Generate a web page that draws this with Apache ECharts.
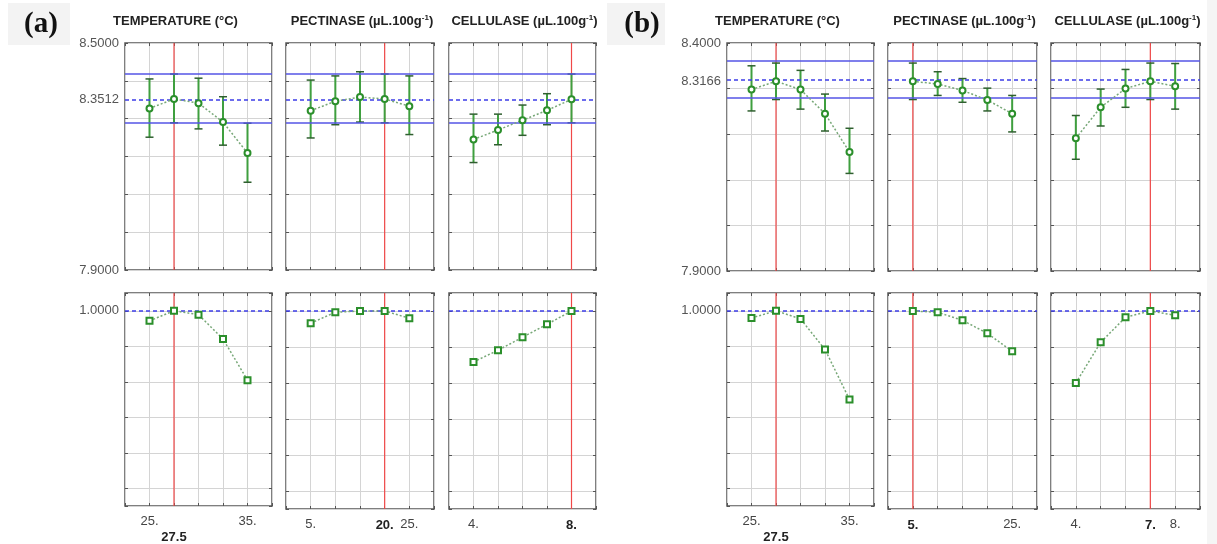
<!DOCTYPE html>
<html>
<head>
<meta charset="utf-8">
<script src="https://cdn.jsdelivr.net/npm/echarts@6/dist/echarts.min.js"></script>
<style>
  html, body { margin: 0; padding: 0; background: #fff; }
  #chart { width: 1217px; height: 544px; }
</style>
</head>
<body>
<div id="chart"></div>
<script>
// factor levels
const tempLevels = [25, 27.5, 30, 32.5, 35];
const pectLevels = [5, 10, 15, 20, 25];
const cellLevels = [4, 5, 6, 7, 8];

// panel (a): predicted response with confidence limits
const aTempMean = [8.327, 8.352, 8.341, 8.291, 8.209];
const aTempLow  = [8.251, 8.289, 8.273, 8.230, 8.132];
const aTempHigh = [8.405, 8.418, 8.407, 8.358, 8.288];
const aPectMean = [8.321, 8.346, 8.357, 8.352, 8.333];
const aPectLow  = [8.249, 8.284, 8.291, 8.289, 8.258];
const aPectHigh = [8.402, 8.413, 8.424, 8.418, 8.413];
const aCellMean = [8.245, 8.270, 8.296, 8.322, 8.351];
const aCellLow  = [8.184, 8.231, 8.256, 8.284, 8.289];
const aCellHigh = [8.312, 8.312, 8.336, 8.366, 8.418];
// panel (a): desirability
const aDesTemp = [0.943, 1.0, 0.978, 0.841, 0.609];
const aDesPect = [0.932, 0.993, 1.0, 1.0, 0.960];
const aDesCell = [0.717, 0.782, 0.854, 0.926, 1.0];
const aPred = [8.289, 8.3512, 8.418];   // low, predicted, high
const aOpt = [27.5, 20, 8];
const aTicks = [[25, 27.5, 35], [5, 20, 25], [4, 8]];
const aYRange = [7.9, 8.5];

// panel (b)
const bTempMean = [8.298, 8.316, 8.298, 8.245, 8.161];
const bTempLow  = [8.251, 8.276, 8.255, 8.207, 8.114];
const bTempHigh = [8.350, 8.356, 8.340, 8.288, 8.213];
const bPectMean = [8.316, 8.310, 8.296, 8.275, 8.245];
const bPectLow  = [8.276, 8.285, 8.270, 8.251, 8.205];
const bPectHigh = [8.356, 8.337, 8.322, 8.301, 8.285];
const bCellMean = [8.191, 8.259, 8.300, 8.316, 8.305];
const bCellLow  = [8.145, 8.218, 8.259, 8.276, 8.255];
const bCellHigh = [8.241, 8.299, 8.342, 8.356, 8.355];
const bDesTemp = [0.959, 1.0, 0.954, 0.782, 0.500];
const bDesPect = [1.0, 0.993, 0.948, 0.876, 0.776];
const bDesCell = [0.600, 0.826, 0.965, 1.0, 0.976];
const bPred = [8.276, 8.3166, 8.356];
const bOpt = [27.5, 5, 7];
const bTicks = [[25, 27.5, 35], [5, 25], [4, 7, 8]];
const bYRange = [7.9, 8.4];

const desRange = [-0.1, 1.1];

const chart = echarts.init(document.getElementById('chart'));

const FONT = '"Liberation Sans", Arial, sans-serif';
const factors = [
  { title: 'TEMPERATURE (°C)', unit: false, shift: -23, min: 22.5, max: 37.5, step: 2.5, levels: tempLevels },
  { title: 'PECTINASE ', unit: true, shift: 2, min: 0, max: 30, step: 5, levels: pectLevels },
  { title: 'CELLULASE ', unit: true, shift: 2, min: 3, max: 9, step: 1, levels: cellLevels }
];

const panels = [
  {
    label: '(a)', labelX: 41, labelBg: [8, 3, 62, 42],
    cols: [[125, 147], [286, 148], [449, 147]], top: [43, 227], bottom: [293, 216],
    mean: [aTempMean, aPectMean, aCellMean], low: [aTempLow, aPectLow, aCellLow],
    high: [aTempHigh, aPectHigh, aCellHigh], des: [aDesTemp, aDesPect, aDesCell],
    pred: aPred, opt: aOpt, ticks: aTicks, yRange: aYRange
  },
  {
    label: '(b)', labelX: 642, labelBg: [607, 3, 58, 42],
    cols: [[727, 147], [888, 149], [1051, 149]], top: [43, 228], bottom: [293, 216],
    mean: [bTempMean, bPectMean, bCellMean], low: [bTempLow, bPectLow, bCellLow],
    high: [bTempHigh, bPectHigh, bCellHigh], des: [bDesTemp, bDesPect, bDesCell],
    pred: bPred, opt: bOpt, ticks: bTicks, yRange: bYRange
  }
];

const grid = [], xAxis = [], yAxis = [], series = [], graphic = [];
const tickStyle = { show: true, inside: true, length: 3, lineStyle: { color: '#555', width: 1 } };
const splitStyle = { show: true, lineStyle: { color: '#d4d4d4', width: 1 } };
const noLine = { show: false, onZero: false };

function errorBarItem(params, api) {
  const x = api.value(0);
  const lo = api.coord([x, api.value(1)]);
  const hi = api.coord([x, api.value(2)]);
  const cap = 4;
  return {
    type: 'group',
    children: [
      { type: 'line', shape: { x1: lo[0], y1: lo[1], x2: hi[0], y2: hi[1] },
        style: { stroke: '#3f9f3f', lineWidth: 2 } },
      { type: 'line', shape: { x1: lo[0] - cap, y1: lo[1], x2: lo[0] + cap, y2: lo[1] },
        style: { stroke: '#2f5f2f', lineWidth: 1.5 } },
      { type: 'line', shape: { x1: hi[0] - cap, y1: hi[1], x2: hi[0] + cap, y2: hi[1] },
        style: { stroke: '#2f5f2f', lineWidth: 1.5 } }
    ]
  };
}

// vertical red line at the optimum setting, spanning the value range
function optLineItem(params, api) {
  const a = api.coord([api.value(0), api.value(1)]);
  const b = api.coord([api.value(0), api.value(2)]);
  return { type: 'line', shape: { x1: a[0], y1: a[1], x2: b[0], y2: b[1] },
    style: { stroke: '#f04848', lineWidth: 1.2 } };
}

function addGrid(rect, f, yOpt) {
  const gi = grid.length;
  grid.push({ left: rect[0], top: rect[1], width: rect[2], height: rect[3],
    show: true, borderColor: '#555', borderWidth: 1.5, backgroundColor: '#fff' });
  xAxis.push(Object.assign({ type: 'value', gridIndex: gi, min: f.min, max: f.max, interval: f.step,
    position: 'bottom', axisLine: noLine, axisTick: tickStyle, splitLine: splitStyle }, yOpt.x));
  xAxis.push({ type: 'value', gridIndex: gi, min: f.min, max: f.max, interval: f.step,
    position: 'top', axisLine: noLine, axisTick: tickStyle, axisLabel: { show: false }, splitLine: { show: false } });
  yAxis.push(Object.assign({ type: 'value', gridIndex: gi, position: 'left', axisLine: noLine,
    axisTick: tickStyle, splitLine: splitStyle }, yOpt.y));
  yAxis.push(Object.assign({ type: 'value', gridIndex: gi, position: 'right', axisLine: noLine,
    axisTick: tickStyle, splitLine: { show: false } }, yOpt.y, { axisLabel: { show: false } }));
  return 2 * gi;
}

panels.forEach(p => {
  graphic.push({ type: 'rect', shape: { x: p.labelBg[0], y: p.labelBg[1], width: p.labelBg[2], height: p.labelBg[3] },
    style: { fill: '#f3f3f3' }, z: -1 });
  graphic.push({ type: 'text', x: p.labelX, y: 25,
    style: { text: p.label, font: 'bold 29px "Liberation Serif", "Times New Roman", serif', fill: '#111',
      align: 'center', verticalAlign: 'middle' } });

  factors.forEach((f, c) => {
    const col = p.cols[c];
    const first = c === 0;
    const opt = p.opt[c];

    // title
    graphic.push({ type: 'text', x: col[0] + col[1] / 2 + f.shift, y: 21,
      style: {
        text: f.unit ? f.title + '{u|(µL.100g}{s|-1}{u|)}' : f.title,
        font: 'bold 13px ' + FONT, fill: '#222', align: 'center', verticalAlign: 'middle',
        rich: {
          u: { font: 'bold 13px ' + FONT, fill: '#222' },
          s: { font: 'bold 8px ' + FONT, fill: '#222', verticalAlign: 'top', padding: [0, 0, 7, 0] }
        }
      } });

    // predicted response row
    const ax = addGrid([col[0], p.top[0], col[1], p.top[1]], f, {
      x: { axisLabel: { show: false } },
      y: {
        min: p.yRange[0], max: p.yRange[1], interval: 0.1,
        axisLabel: first
          ? { show: true, customValues: [p.yRange[0], p.pred[1], p.yRange[1]], formatter: v => v.toFixed(4),
              color: '#555', fontSize: 13, fontFamily: FONT, margin: 6 }
          : { show: false }
      }
    });
    series.push({
      type: 'custom', xAxisIndex: ax, yAxisIndex: ax, z: 2, silent: true,
      renderItem: optLineItem, encode: { x: 0, y: [1, 2] },
      data: [[opt, p.yRange[0], p.yRange[1]]]
    });
    series.push({
      type: 'custom', xAxisIndex: ax, yAxisIndex: ax, z: 3, silent: true,
      renderItem: errorBarItem,
      encode: { x: 0, y: [1, 2] },
      data: f.levels.map((x, k) => [x, p.low[c][k], p.high[c][k]]),
      markLine: {
        silent: true, symbol: 'none', label: { show: false }, animation: false,
        data: [
          { yAxis: p.pred[0], lineStyle: { color: '#5454e6', width: 1.5, type: 'solid' } },
          { yAxis: p.pred[2], lineStyle: { color: '#5454e6', width: 1.5, type: 'solid' } },
          { yAxis: p.pred[1], lineStyle: { color: '#3c3ce8', width: 1.5, type: [4, 3] } }
        ]
      }
    });
    series.push({
      type: 'line', xAxisIndex: ax, yAxisIndex: ax, z: 5, silent: true, animation: false,
      data: f.levels.map((x, k) => [x, p.mean[c][k]]),
      symbol: 'emptyCircle', symbolSize: 6,
      itemStyle: { color: '#2b8f2b', borderWidth: 1.5 },
      lineStyle: { color: '#78a878', width: 1.5, type: [2, 2] }
    });

    // desirability row
    const bx = addGrid([col[0], p.bottom[0], col[1], p.bottom[1]], f, {
      x: {
        axisLabel: {
          show: true, customValues: p.ticks[c], color: '#444', fontSize: 13, fontFamily: FONT, margin: 9,
          formatter: v => {
            if (v !== opt) return v + '.';
            if (v % 1 !== 0) return '{e|}\n{b|' + v + '}';
            return '{b|' + v + '.}';
          },
          rich: {
            e: { lineHeight: 15, fontSize: 13 },
            b: { fontWeight: 'bold', color: '#222', fontSize: 13, fontFamily: FONT, lineHeight: 15 }
          }
        }
      },
      y: {
        min: desRange[0], max: desRange[1], splitNumber: 6,
        axisLabel: first
          ? { show: true, customValues: [1], formatter: v => v.toFixed(4), color: '#555', fontSize: 13,
              fontFamily: FONT, margin: 6 }
          : { show: false }
      }
    });
    series.push({
      type: 'custom', xAxisIndex: bx, yAxisIndex: bx, z: 2, silent: true,
      renderItem: optLineItem, encode: { x: 0, y: [1, 2] },
      data: [[opt, desRange[0], desRange[1]]]
    });
    series.push({
      type: 'line', xAxisIndex: bx, yAxisIndex: bx, z: 5, silent: true, animation: false,
      data: f.levels.map((x, k) => [x, p.des[c][k]]),
      symbol: 'emptyRect', symbolSize: 6,
      itemStyle: { color: '#2b8f2b', borderWidth: 1.5 },
      lineStyle: { color: '#78a878', width: 1.5, type: [2, 2] },
      markLine: {
        silent: true, symbol: 'none', label: { show: false }, animation: false,
        data: [
          { yAxis: 1, lineStyle: { color: '#3c3ce8', width: 1.5, type: [4, 3] } }
        ]
      }
    });
  });
});

graphic.push({ type: 'rect', shape: { x: 1207, y: 0, width: 10, height: 544 }, style: { fill: '#f5f5f5' }, z: -1 });

chart.setOption({
  animation: false,
  backgroundColor: '#fff',
  textStyle: { fontFamily: FONT },
  grid, xAxis, yAxis, series, graphic
});
</script>
</body>
</html>
